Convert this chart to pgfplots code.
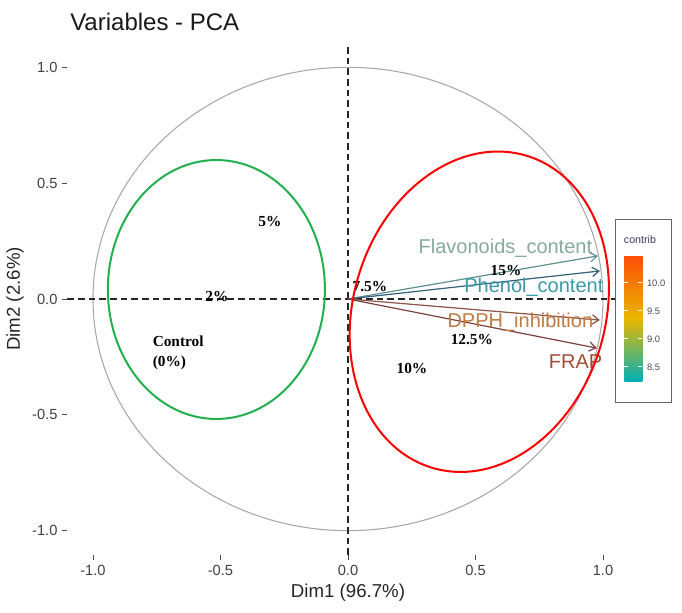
\documentclass[border=0pt]{standalone}
\usepackage{pgfplots}
\pgfplotsset{compat=1.18}
\usetikzlibrary{arrows.meta}
\usepackage{fontspec}
\setmainfont{Liberation Sans}
\newfontfamily\tnr{Liberation Serif}

\definecolor{circgray}{HTML}{A8A8A8}
\definecolor{ticktext}{HTML}{4D4D4D}
\definecolor{flavlab}{HTML}{86A99E}
\definecolor{flavarr}{HTML}{5F8F90}
\definecolor{phenlab}{HTML}{3B98A6}
\definecolor{phenarr}{HTML}{34607A}
\definecolor{dpphlab}{HTML}{C07A42}
\definecolor{dppharr}{HTML}{8C5347}
\definecolor{fraplab}{HTML}{A34C33}
\definecolor{fraparr}{HTML}{7D4140}
\definecolor{ellgreen}{HTML}{22B04E}
\definecolor{contribtitle}{HTML}{3E3566}

\begin{document}
\begin{tikzpicture}
\begin{axis}[
  name=main,
  scale only axis, width=420.75pt, height=384pt,
  xmin=-1.1, xmax=1.1, ymin=-1.105, ymax=1.105,
  clip=false,
  axis line style={draw=none},
  xtick={-1,-0.5,0,0.5,1}, xticklabels={-1.0,-0.5,0.0,0.5,1.0},
  ytick={-1,-0.5,0,0.5,1}, yticklabels={-1.0,-0.5,0.0,0.5,1.0},
  xtick pos=bottom, ytick pos=left,
  tick align=outside, major tick length=4pt,
  tick style={ticktext, line width=0.6pt},
  ticklabel style={font=\fontsize{11}{13}\selectfont, text=black!75},
  colorbar,
  colormap={contribmap}{rgb255=(0,175,187) rgb255=(231,184,0) rgb255=(252,78,7)},
  point meta min=8.23, point meta max=10.48,
  colorbar style={
    at={(parent axis.south west)}, anchor=south west,
    xshift=409.1pt, yshift=129.75pt,
    width=13.5pt, height=94.5pt,
    ytick={8.5,9,9.5,10}, yticklabels={8.5,9.0,9.5,10.0},
    ytick pos=both, yticklabel pos=right,
    tick align=inside, major tick length=3pt,
    tick style={white, line width=0.8pt},
    yticklabel style={font=\fontsize{7}{8}\selectfont, text=black!70},
    axis line style={draw=none},
  },
]
% correlation circle and reference lines
\draw[circgray, line width=0.8pt] (axis cs:0,0) ellipse [x radius=1, y radius=1];
\addplot[black!85, line width=1.2pt, dash pattern=on 5pt off 3pt] coordinates {(-1.1,0) (1.1,0)};
\addplot[black!85, line width=1.2pt, dash pattern=on 5pt off 3pt] coordinates {(0,-1.105) (0,1.105)};

% variable arrows
\addplot[flavarr, line width=0.9pt, -{Straight Barb[length=5pt,width=7pt]}] coordinates {(0,0) (0.980,0.186)};
\addplot[phenarr, line width=0.9pt, -{Straight Barb[length=5pt,width=7pt]}] coordinates {(0,0) (0.988,0.121)};
\addplot[dppharr, line width=0.9pt, -{Straight Barb[length=5pt,width=7pt]}] coordinates {(0,0) (0.988,-0.091)};
\addplot[fraparr, line width=0.9pt, -{Straight Barb[length=5pt,width=7pt]}] coordinates {(0,0) (0.976,-0.212)};

\node[anchor=east, text=flavlab, font=\fontsize{15}{17}\selectfont] at (axis cs:0.976,0.220) {Flavonoids\_content};
\node[anchor=east, text=phenlab, font=\fontsize{15}{17}\selectfont] at (axis cs:1.020,0.052) {Phenol\_content};
\node[anchor=east, text=dpphlab, font=\fontsize{15}{17}\selectfont] at (axis cs:0.980,-0.099) {DPPH\_inhibition};
\node[anchor=east, text=fraplab, font=\fontsize{15}{17}\selectfont] at (axis cs:1.016,-0.272) {FRAP};

% annotations
\begin{scope}[every node/.style={font=\tnr\bfseries\fontsize{11.5}{15}\selectfont}]
\node at (axis cs:-0.306,0.333) {5\%};
\node at (axis cs:-0.514,0.009) {2\%};
\node[anchor=west, align=left] at (axis cs:-0.784,-0.233) {Control\\(0\%)};
\node at (axis cs:0.086,0.052) {7.5\%};
\node at (axis cs:0.620,0.125) {15\%};
\node at (axis cs:0.486,-0.177) {12.5\%};
\node at (axis cs:0.251,-0.302) {10\%};
\end{scope}

% legend box
\draw[black!60, fill=white, line width=0.5pt] (rel axis cs:0.976,0.2988) rectangle (rel axis cs:1.0758,0.65625);
\node[text=contribtitle, font=\fontsize{8}{9}\selectfont] at (rel axis cs:1.0205,0.615) {contrib};

\coordinate (gc) at (axis cs:-0.516,0.041);
\coordinate (rc) at (axis cs:0.515,-0.055);
\end{axis}

% group ellipses
\draw[ellgreen, line width=1.5pt] (gc) ellipse [x radius=81.4pt, y radius=97.1pt];
\draw[red, line width=1.5pt, rotate around={-17:(rc)}] (rc) ellipse [x radius=94.5pt, y radius=122.25pt];

% titles
\node[anchor=west, inner sep=0pt, text=black!90, font=\fontsize{18}{20}\selectfont] at (1.9pt,399.75pt) {Variables - PCA};
\node[text=black!85, font=\fontsize{14}{16}\selectfont] at (210.4pt,-28.5pt) {Dim1 (96.7\%)};
\node[rotate=90, text=black!85, font=\fontsize{14}{16}\selectfont] at (-39.4pt,192pt) {Dim2 (2.6\%)};

\useasboundingbox (-50.6pt,-43.5pt) rectangle (460.9pt,416.25pt);
\end{tikzpicture}
\end{document}
